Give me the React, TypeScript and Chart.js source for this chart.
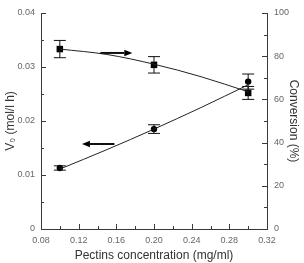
import React, { useEffect, useRef } from "react";
import { Chart, registerables } from "chart.js";

Chart.register(...registerables);

// ---- data ----
const concX = [0.1, 0.2, 0.3];
const rateVals = [0.0113, 0.0185, 0.0273];
const rateErr = [0.0004, 0.0008, 0.0014];
const convVals = [83.3, 76.0, 63.0];
const convErr = [4.0, 3.8, 3.0];
const fitX = [0.1, 0.15, 0.2, 0.25, 0.3];
const rateFit = [0.0111, 0.0147, 0.0185, 0.0225, 0.0267];
const convFit = [83.3, 80.8, 76.3, 70.5, 63.5];
// arrows: [xFrom, xTo, yValue]
const arrowConv = [0.143, 0.177, 81.5];
const arrowRate = [0.158, 0.1235, 0.01574];
// axis ranges / ticks
const xTicks = [0.08, 0.32, 0.04];
const rateTicks = [0, 0.04, 0.01];
const convTicks = [0, 100, 20];

const FONT = "'Liberation Sans', Arial, Helvetica, sans-serif";
const AXIS = "#3a3a3a";

const decorPlugin = {
  id: "decor",
  afterDatasetsDraw(chart: any) {
    const ctx = chart.ctx;
    const xs = chart.scales.x;
    const yl = chart.scales.y;
    const yr = chart.scales.y1;
    ctx.save();
    ctx.strokeStyle = "#111";
    ctx.lineWidth = 1;
    const cap = 6;
    const bar = (px: number, pyTop: number, pyBot: number) => {
      ctx.beginPath();
      ctx.moveTo(px, pyTop);
      ctx.lineTo(px, pyBot);
      ctx.moveTo(px - cap, pyTop);
      ctx.lineTo(px + cap, pyTop);
      ctx.moveTo(px - cap, pyBot);
      ctx.lineTo(px + cap, pyBot);
      ctx.stroke();
    };
    concX.forEach((x, i) => {
      const px = xs.getPixelForValue(x);
      bar(px, yl.getPixelForValue(rateVals[i] + rateErr[i]), yl.getPixelForValue(rateVals[i] - rateErr[i]));
      bar(px, yr.getPixelForValue(convVals[i] + convErr[i]), yr.getPixelForValue(convVals[i] - convErr[i]));
    });
    const arrow = (a: number[], ys: any) => {
      const x0 = xs.getPixelForValue(a[0]);
      const x1 = xs.getPixelForValue(a[1]);
      const y = ys.getPixelForValue(a[2]);
      const dir = Math.sign(x1 - x0);
      const headL = 8;
      const headW = 3.2;
      ctx.fillStyle = "#000";
      ctx.lineWidth = 2;
      ctx.beginPath();
      ctx.moveTo(x0, y);
      ctx.lineTo(x1 - dir * headL, y);
      ctx.stroke();
      ctx.beginPath();
      ctx.moveTo(x1, y);
      ctx.lineTo(x1 - dir * headL, y - headW);
      ctx.lineTo(x1 - dir * headL, y + headW);
      ctx.closePath();
      ctx.fill();
    };
    arrow(arrowConv, yr);
    arrow(arrowRate, yl);
    ctx.restore();
  },
  afterDraw(chart: any) {
    const ctx = chart.ctx;
    const xs = chart.scales.x;
    const yl = chart.scales.y;
    const yr = chart.scales.y1;
    const area = chart.chartArea;
    ctx.save();
    ctx.strokeStyle = AXIS;
    ctx.lineWidth = 1;
    const major = 5;
    const minor = 3;
    ctx.beginPath();
    const xStep = xTicks[2] / 2;
    for (let k = 0; xTicks[0] + k * xStep <= xTicks[1] + 1e-9; k++) {
      const px = Math.round(xs.getPixelForValue(xTicks[0] + k * xStep)) + 0.5;
      const len = k % 2 === 0 ? major : minor;
      ctx.moveTo(px, area.bottom);
      ctx.lineTo(px, area.bottom - len);
    }
    const lStep = rateTicks[2] / 2;
    for (let k = 0; rateTicks[0] + k * lStep <= rateTicks[1] + 1e-9; k++) {
      const py = Math.round(yl.getPixelForValue(rateTicks[0] + k * lStep)) + 0.5;
      const len = k % 2 === 0 ? major : minor;
      ctx.moveTo(area.left, py);
      ctx.lineTo(area.left + len, py);
    }
    const rStep = convTicks[2] / 2;
    for (let k = 0; convTicks[0] + k * rStep <= convTicks[1] + 1e-9; k++) {
      const py = Math.round(yr.getPixelForValue(convTicks[0] + k * rStep)) + 0.5;
      const len = k % 2 === 0 ? major : minor;
      ctx.moveTo(area.right, py);
      ctx.lineTo(area.right - len, py);
    }
    ctx.stroke();
    ctx.restore();
  },
};

export default function App() {
  const ref = useRef<HTMLCanvasElement | null>(null);
  useEffect(() => {
    if (!ref.current) return;
    const chart = new Chart(ref.current, {
      type: "scatter",
      data: {
        datasets: [
          {
            data: fitX.map((x, i) => ({ x, y: rateFit[i] })),
            yAxisID: "y",
            showLine: true,
            borderColor: "#222",
            borderWidth: 1,
            pointRadius: 0,
            cubicInterpolationMode: "monotone",
          },
          {
            data: fitX.map((x, i) => ({ x, y: convFit[i] })),
            yAxisID: "y1",
            showLine: true,
            borderColor: "#222",
            borderWidth: 1,
            pointRadius: 0,
            cubicInterpolationMode: "monotone",
          },
          {
            data: concX.map((x, i) => ({ x, y: rateVals[i] })),
            yAxisID: "y",
            pointStyle: "circle",
            pointRadius: 3.2,
            backgroundColor: "#000",
            borderColor: "#000",
            borderWidth: 0,
          },
          {
            data: concX.map((x, i) => ({ x, y: convVals[i] })),
            yAxisID: "y1",
            pointStyle: "rect",
            pointRadius: 4.6,
            backgroundColor: "#000",
            borderColor: "#000",
            borderWidth: 0,
          },
        ],
      },
      options: {
        animation: false,
        responsive: true,
        maintainAspectRatio: false,
        layout: { padding: { top: 13, left: 0, right: 0, bottom: 0 } },
        plugins: { legend: { display: false }, tooltip: { enabled: false } },
        scales: {
          x: {
            type: "linear",
            min: xTicks[0],
            max: xTicks[1],
            afterFit: (s: any) => {
              s.height = 34;
            },
            border: { display: true, color: AXIS, width: 1 },
            grid: { display: false, drawTicks: false },
            ticks: {
              stepSize: xTicks[2],
              padding: 6,
              color: "#666",
              font: { family: FONT, size: 9 },
              maxRotation: 0,
            },
            title: {
              display: true,
              text: "Pectins concentration (mg/ml)",
              color: "#333",
              font: { family: FONT, size: 12 },
              padding: { top: 0, bottom: 0 },
            },
          },
          y: {
            type: "linear",
            position: "left",
            min: rateTicks[0],
            max: rateTicks[1],
            afterFit: (s: any) => {
              s.width = 41;
            },
            border: { display: true, color: AXIS, width: 1 },
            grid: { display: false, drawTicks: false },
            ticks: {
              stepSize: rateTicks[2],
              padding: 6,
              color: "#666",
              font: { family: FONT, size: 9 },
            },
            title: {
              display: true,
              text: "V\u2080 (mol/l h)",
              color: "#333",
              font: { family: FONT, size: 12 },
              padding: { top: 3, bottom: 0 },
            },
          },
          y1: {
            type: "linear",
            position: "right",
            min: convTicks[0],
            max: convTicks[1],
            afterFit: (s: any) => {
              s.width = 37;
            },
            border: { display: true, color: AXIS, width: 1 },
            grid: { display: false, drawTicks: false },
            ticks: {
              stepSize: convTicks[2],
              padding: 7,
              color: "#666",
              font: { family: FONT, size: 9 },
            },
            title: {
              display: true,
              text: "Conversion (%)",
              color: "#333",
              font: { family: FONT, size: 12 },
              padding: { top: 3, bottom: 0 },
            },
          },
        },
      },
      plugins: [decorPlugin],
    } as any);
    return () => chart.destroy();
  }, []);
  return (
    <div style={{ position: "absolute", left: 0, top: 0, width: 304, height: 263, background: "#fff" }}>
      <canvas ref={ref} />
    </div>
  );
}
